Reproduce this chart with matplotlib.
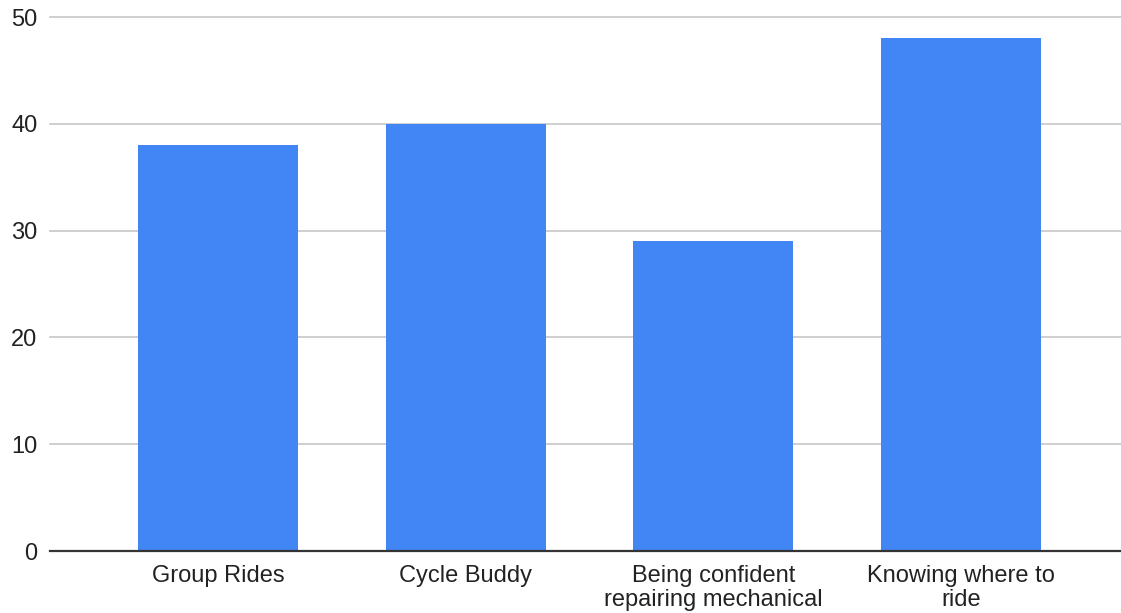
import matplotlib.pyplot as plt

plt.rcParams['font.family'] = ['Liberation Sans', 'DejaVu Sans']

categories = ["Group Rides", "Cycle Buddy", "Being confident\nrepairing mechanical", "Knowing where to\nride"]
values = [38, 40, 29, 48]
y_ticks = [0, 10, 20, 30, 40, 50]

bar_color = '#4285F4'
text_color = '#222222'

fig = plt.figure(figsize=(11.21, 6.13), dpi=100)
ax = fig.add_axes([50 / 1121, 62 / 613, 1071 / 1121, 534 / 613])

x = range(len(categories))
ax.bar(x, values, width=0.646, color=bar_color, zorder=3)

ax.set_xlim(-0.678, 3.646)
ax.set_ylim(0, 50)
ax.set_yticks(y_ticks)
ax.set_xticks(list(x))
ax.set_xticklabels(categories, linespacing=1.12)

ax.grid(axis='y', color='#cccccc', linewidth=1.3, zorder=0)
for line in ax.get_ygridlines():
    line.set_clip_on(False)

for side in ['top', 'right', 'left']:
    ax.spines[side].set_visible(False)
ax.spines['bottom'].set_color('#333333')
ax.spines['bottom'].set_linewidth(1.6)
ax.spines['bottom'].set_zorder(4)

ax.tick_params(axis='both', length=0, labelsize=17, colors=text_color)
ax.tick_params(axis='y', pad=9)
ax.tick_params(axis='x', pad=10)

fig.savefig("out.png", dpi=100)
